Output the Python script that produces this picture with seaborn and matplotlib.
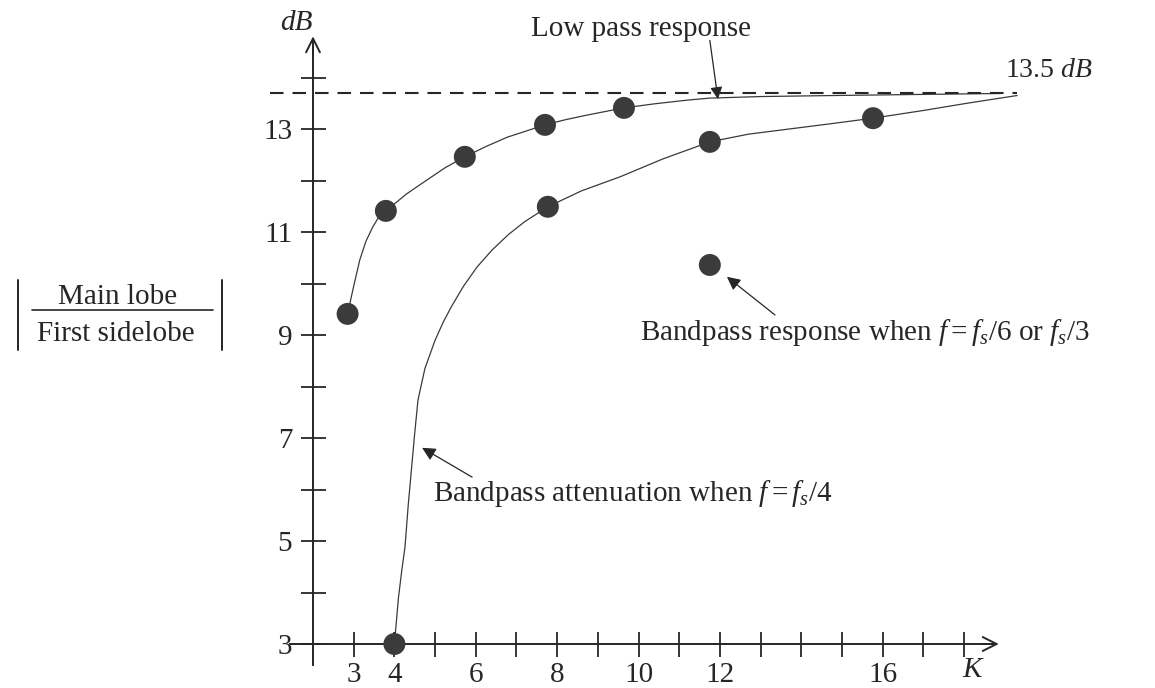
import matplotlib
matplotlib.use("Agg")
import matplotlib.pyplot as plt
import seaborn as sns
from matplotlib.lines import Line2D

# values
upper_pts_k = [2.85, 3.79, 5.73, 7.70, 9.64]
upper_pts_db = [9.41, 11.41, 12.46, 13.08, 13.41]
lower_pts_k = [4.0, 7.77, 11.75, 15.76]
lower_pts_db = [3.0, 11.49, 12.75, 13.21]
single_k = [11.75]
single_db = [10.36]

# traced curves (low pass response / bandpass attenuation at fs/4)
upper_curve_k = [2.85, 3.0, 3.15, 3.3, 3.47, 3.6, 3.79, 4.3, 4.80, 5.25, 5.73, 6.25, 6.77, 7.70,
                 8.2, 8.73, 9.64, 10.4, 11.19, 11.75, 13.0, 14.78, 16.8, 18.9]
upper_curve_db = [9.41, 9.95, 10.46, 10.82, 11.10, 11.27, 11.41, 11.74, 12.01, 12.25, 12.46, 12.66, 12.84, 13.08,
                  13.18, 13.27, 13.41, 13.49, 13.56, 13.60, 13.63, 13.65, 13.67, 13.69]
lower_curve_k = [4.0, 4.1, 4.18, 4.26, 4.34, 4.42, 4.5, 4.58, 4.75, 5.0, 5.2, 5.4, 5.7, 6.03, 6.4, 6.8, 7.2,
                 7.77, 8.6, 9.54, 10.6, 11.75, 12.7, 13.7, 14.7, 15.76, 17.0, 18.07, 19.3]
lower_curve_db = [3.0, 3.9, 4.42, 4.88, 5.7, 6.4, 7.1, 7.74, 8.35, 8.9, 9.25, 9.55, 9.95, 10.32, 10.65, 10.95, 11.2,
                  11.49, 11.8, 12.07, 12.42, 12.75, 12.9, 13.0, 13.1, 13.21, 13.36, 13.5, 13.65]

asymptote_db = 13.7
x_ticks = list(range(3, 19))
x_labeled = [3, 4, 6, 8, 10, 12, 16]
y_ticks = list(range(3, 15))
y_labeled = [3, 5, 7, 9, 11, 13]

sns.set_theme(style="white")
plt.rcParams["font.family"] = ["Liberation Serif", "DejaVu Serif"]
plt.rcParams["mathtext.fontset"] = "custom"
plt.rcParams["mathtext.rm"] = "Liberation Serif"
plt.rcParams["mathtext.it"] = "Liberation Serif:italic"

ink = "#262626"
W, H = 1155, 688

# place axes so that K=2 sits at x=313px, dB=3 at y=644px
x0, xs = 313, 40.7
y0, ys = 644, 51.5
xlim = (0.5, 20.0)
ylim = (2.2, 15.0)
left_px = x0 + (xlim[0] - 2) * xs
right_px = x0 + (xlim[1] - 2) * xs
top_px = y0 - (ylim[1] - 3) * ys
bot_px = y0 - (ylim[0] - 3) * ys

fig = plt.figure(figsize=(11.55, 6.88), dpi=100)
ax = fig.add_axes([left_px / W, 1 - bot_px / H, (right_px - left_px) / W, (bot_px - top_px) / H])
ax.set_xlim(*xlim)
ax.set_ylim(*ylim)

sns.lineplot(x=upper_curve_k, y=upper_curve_db, sort=False, estimator=None, ax=ax, color="#3a3a3a", lw=0.9)
sns.lineplot(x=lower_curve_k, y=lower_curve_db, sort=False, estimator=None, ax=ax, color="#3a3a3a", lw=0.9)
ax.hlines(asymptote_db, 0.94, 19.3, colors=ink, lw=1.5, linestyles=(0, (6.5, 4.3)))

for ks, ds in [(upper_pts_k, upper_pts_db), (lower_pts_k, lower_pts_db), (single_k, single_db)]:
    sns.scatterplot(x=ks, y=ds, ax=ax, s=250, color="#3b3b3b", edgecolor="none", zorder=5, clip_on=False)

# axes drawn through the origin (2, 3)
for s in ["top", "right"]:
    ax.spines[s].set_visible(False)
ax.spines["left"].set_position(("data", 2))
ax.spines["bottom"].set_position(("data", 3))
ax.spines["left"].set_bounds(2.59, 14.6)
ax.spines["bottom"].set_bounds(1.43, 18.7)
for s in ["left", "bottom"]:
    ax.spines[s].set_color(ink)
    ax.spines[s].set_linewidth(1.4)
ax.annotate("", xy=(2, 14.8), xytext=(2, 14.4),
            arrowprops=dict(arrowstyle="->", lw=1.4, color=ink, mutation_scale=25, shrinkA=0, shrinkB=0))
ax.annotate("", xy=(18.85, 3), xytext=(18.4, 3),
            arrowprops=dict(arrowstyle="->", lw=1.4, color=ink, mutation_scale=25, shrinkA=0, shrinkB=0))

ax.set_xticks(x_ticks)
ax.set_xticklabels([str(k) if k in x_labeled else "" for k in x_ticks])
ax.set_yticks(y_ticks)
ax.set_yticklabels([str(v) if v in y_labeled else "" for v in y_ticks])
ax.tick_params(bottom=True, left=True, direction="inout", length=18, width=1.3, colors=ink, labelsize=21)
ax.tick_params(axis="x", pad=4)
ax.tick_params(axis="y", pad=6)
ax.set_xlabel("")
ax.set_ylabel("")

ax.text(18.2, 2.5, "K", fontsize=21, style="italic", color=ink, ha="center", va="center")
ax.text(1.6, 15.06, "dB", fontsize=21, style="italic", color=ink, ha="center", va="center")
ax.text(19.0, 14.13, r"13.5 $dB$", fontsize=20, color=ink, ha="left", va="center")

ax.text(10.06, 14.94, "Low pass response", fontsize=21, color=ink, ha="center", va="center")
ax.annotate("", xy=(11.95, 13.58), xytext=(11.75, 14.72),
            arrowprops=dict(arrowstyle="-|>", lw=0.9, color=ink, mutation_scale=18, shrinkA=0, shrinkB=0))

ax.text(10.03, 9.04, r"Bandpass response when $f = f_s/6$ or $f_s/3$", fontsize=21, color=ink,
        ha="left", va="center")
ax.annotate("", xy=(12.17, 10.13), xytext=(13.35, 9.39),
            arrowprops=dict(arrowstyle="-|>", lw=0.9, color=ink, mutation_scale=20, shrinkA=0, shrinkB=0))

ax.text(4.95, 5.93, r"Bandpass attenuation when $f = f_s/4$", fontsize=21, color=ink,
        ha="left", va="center")
ax.annotate("", xy=(4.68, 6.81), xytext=(5.91, 6.24),
            arrowprops=dict(arrowstyle="-|>", lw=0.9, color=ink, mutation_scale=20, shrinkA=0, shrinkB=0))

# |Main lobe / First sidelobe| label on the left
fig.text(118 / W, 1 - 297 / H, "Main lobe", fontsize=21, color=ink, ha="center", va="center")
fig.text(116 / W, 1 - 334 / H, "First sidelobe", fontsize=21, color=ink, ha="center", va="center")
fig.add_artist(Line2D([32 / W, 213 / W], [1 - 310 / H] * 2, transform=fig.transFigure, color=ink, lw=1.2))
for bx in [18, 222]:
    fig.add_artist(Line2D([bx / W] * 2, [1 - 280 / H, 1 - 350 / H], transform=fig.transFigure, color=ink, lw=1.4))

fig.savefig("out.png", dpi=100, facecolor="white")
